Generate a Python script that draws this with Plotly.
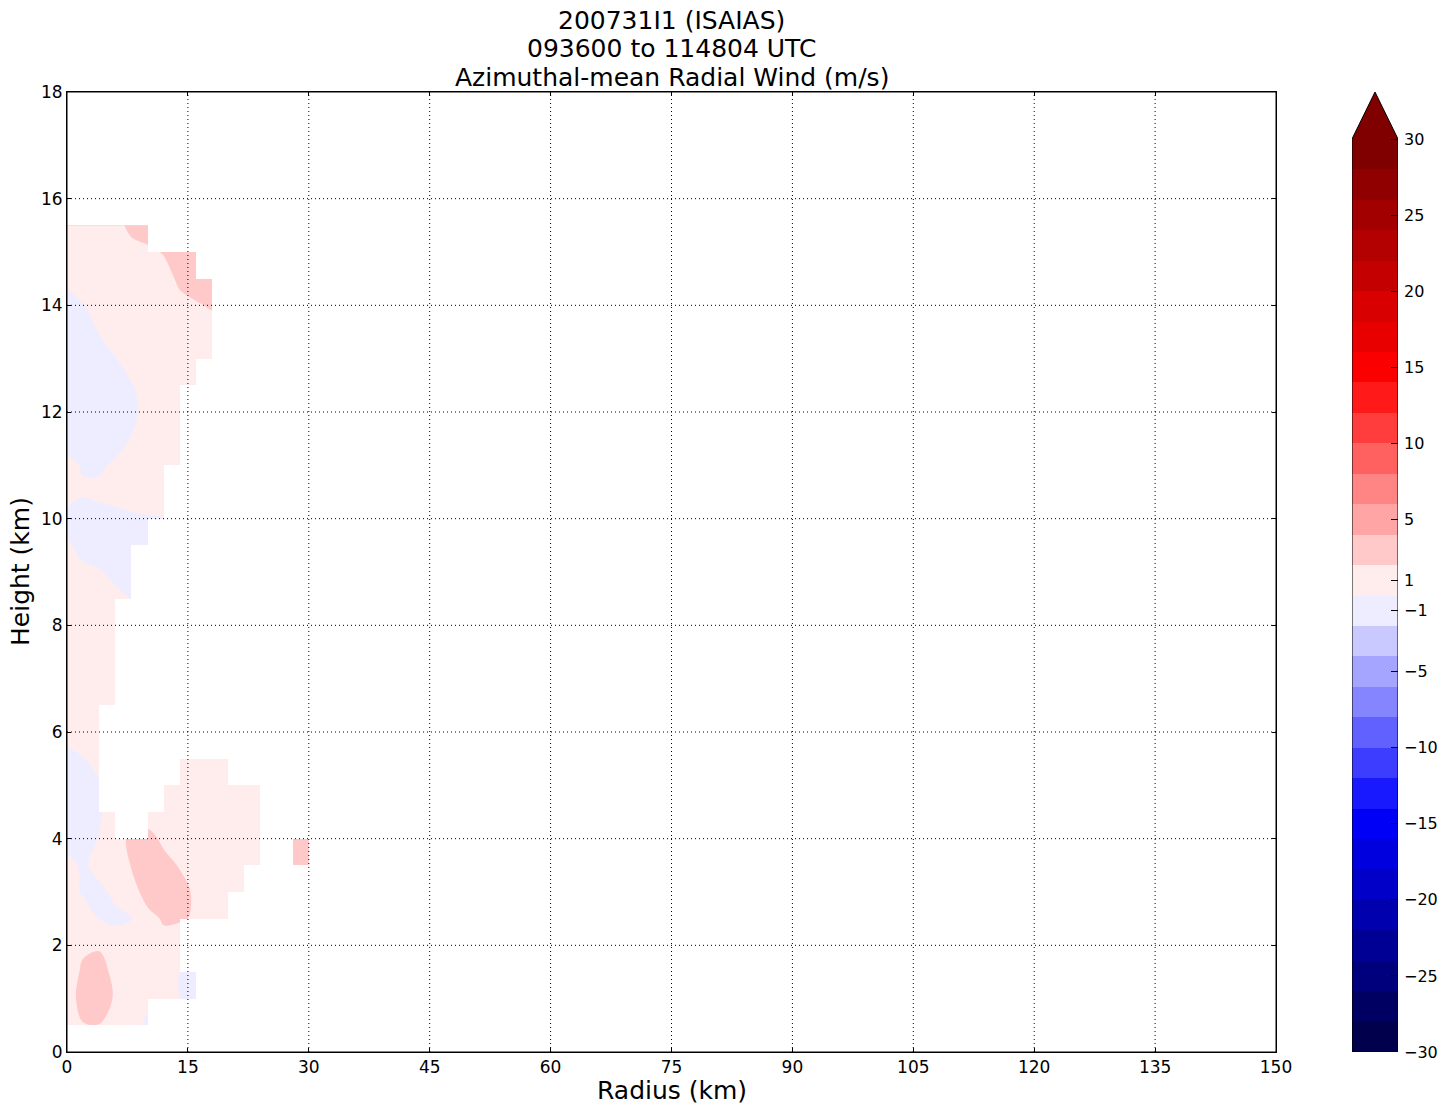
import plotly.graph_objects as go

# ---------------- data ----------------
radius_km = [0, 2, 4, 6, 8, 10, 12, 14, 16, 18, 20, 22, 24, 26, 28, 30]
height_km = [0.5, 1.0, 1.5, 2.0, 2.5, 3.0, 3.5, 4.0, 4.5, 5.0, 5.5, 6.0, 6.5, 7.0, 7.5,
             8.0, 8.5, 9.0, 9.5, 10.0, 10.5, 11.0, 11.5, 12.0, 12.5, 13.0, 13.5, 14.0,
             14.5, 15.0, 15.5]
N = None
# azimuthal-mean radial wind (m/s); rows = heights, columns = radii
radial_wind = [
    [1.0, 1.9, 1.95, 1.4, 1.0, -0.5, N, N, N, N, N, N, N, N, N, N],                 # 0.5
    [1.0, 2.8, 2.9, 1.8, 1.0, 0.8, 1.0, -0.01, -0.5, N, N, N, N, N, N, N],          # 1.0
    [1.0, 2.3, 2.7, 1.5, 1.0, 1.0, 1.0, -0.01, -0.5, N, N, N, N, N, N, N],          # 1.5
    [1.0, 1.7, 1.8, 0.6, 1.0, 1.2, 1.4, 0.8, N, N, N, N, N, N, N, N],               # 2.0
    [0.8, 0.6, -0.02, -0.2, -0.05, 1.4, 2.2, 2.2, 1.8, 1.0, 0.8, N, N, N, N, N],    # 2.5
    [0.5, -0.12, -0.2, 0.2, 1.2, 2.8, 3.2, 3.0, 1.5, 1.0, 0.8, 0.7, N, N, N, N],    # 3.0
    [0.3, -0.15, 0.3, 1.0, 2.1, 3.2, 2.9, 1.8, 1.2, 0.9, 0.8, 0.7, 0.6, N, 3.0, 3.0],  # 3.5
    [-0.45, -0.5, 0.05, 1.2, 2.4, 3.0, 1.4, 1.2, 1.0, 0.9, 0.8, 0.7, 0.6, N, 3.0, 3.0],  # 4.0
    [-0.6, -0.6, -0.1, 0.4, N, 0.3, 0.9, 1.0, 0.9, 0.8, 0.7, 0.6, 0.5, N, N, N],    # 4.5
    [-0.6, -0.5, -0.2, N, N, N, 0.8, 0.9, 0.8, 0.7, 0.6, 0.5, 0.5, N, N, N],        # 5.0
    [-0.3, -0.05, 0.5, N, N, N, N, 0.7, 0.7, 0.6, 0.5, N, N, N, N, N],              # 5.5
    [0.4, 0.5, 0.6, N, N, N, N, N, N, N, N, N, N, N, N, N],                         # 6.0
    [0.5, 0.6, 0.6, 0.6, N, N, N, N, N, N, N, N, N, N, N, N],                       # 6.5
    [0.6, 0.6, 0.6, 0.6, N, N, N, N, N, N, N, N, N, N, N, N],                       # 7.0
    [0.6, 0.6, 0.6, 0.6, N, N, N, N, N, N, N, N, N, N, N, N],                       # 7.5
    [0.6, 0.6, 0.6, 0.5, N, N, N, N, N, N, N, N, N, N, N, N],                       # 8.0
    [0.6, 0.6, 0.5, 0.3, -0.05, N, N, N, N, N, N, N, N, N, N, N],                   # 8.5
    [0.6, 0.3, 0.1, -0.3, -0.4, N, N, N, N, N, N, N, N, N, N, N],                   # 9.0
    [0.2, -0.5, -0.6, -0.6, -0.5, -0.4, N, N, N, N, N, N, N, N, N, N],              # 9.5
    [-0.3, -0.6, -0.5, -0.4, -0.2, -0.1, -0.02, N, N, N, N, N, N, N, N, N],         # 10.0
    [0.4, 0.15, 0.3, 0.5, 0.6, 0.7, 0.8, N, N, N, N, N, N, N, N, N],                # 10.5
    [0.3, -0.1, -0.2, 0.2, 0.5, 0.8, 1.0, 1.0, N, N, N, N, N, N, N, N],             # 11.0
    [-0.5, -0.9, -0.8, -0.5, 0.05, 0.6, 0.9, 1.0, N, N, N, N, N, N, N, N],          # 11.5
    [-1.2, -1.2, -1.0, -0.8, -0.3, 0.4, 0.8, 0.9, N, N, N, N, N, N, N, N],          # 12.0
    [-1.1, -1.1, -0.9, -0.6, -0.1, 0.6, 0.9, 1.0, 1.1, N, N, N, N, N, N, N],        # 12.5
    [-1.0, -0.9, -0.5, -0.05, 0.6, 0.9, 1.0, 1.1, 1.2, 1.3, N, N, N, N, N, N],      # 13.0
    [-0.8, -0.6, 0.05, 0.6, 0.9, 1.0, 1.1, 1.3, 1.4, 1.6, N, N, N, N, N, N],        # 13.5
    [-0.5, -0.05, 0.5, 0.8, 1.0, 1.1, 1.3, 1.6, 1.9, 2.1, N, N, N, N, N, N],        # 14.0
    [0.3, 0.6, 0.8, 1.0, 1.1, 1.2, 1.4, 2.3, 2.5, 3.0, N, N, N, N, N, N],           # 14.5
    [0.8, 1.0, 1.1, 1.2, 1.5, 1.7, 2.1, 2.6, 3.0, N, N, N, N, N, N, N],             # 15.0
    [1.0, 1.2, 1.3, 1.5, 2.4, 2.8, N, N, N, N, N, N, N, N, N, N],                   # 15.5
]

level_start, level_end, level_step = -30, 30, 2
cbar_ticks = [-30, -25, -20, -15, -10, -5, -1, 1, 5, 10, 15, 20, 25, 30]
x_ticks = [0, 15, 30, 45, 60, 75, 90, 105, 120, 135, 150]
y_ticks = [0, 2, 4, 6, 8, 10, 12, 14, 16, 18]
x_max, y_max = 150, 18
title_lines = ["200731I1 (ISAIAS)", "093600 to 114804 UTC", "Azimuthal-mean Radial Wind (m/s)"]

FONT = "DejaVu Sans"


# ---------------- colours (matplotlib 'seismic') ----------------
def seismic(s):
    nodes = [(0.0, (0.0, 0.0, 0.3)), (0.25, (0.0, 0.0, 1.0)), (0.5, (1.0, 1.0, 1.0)),
             (0.75, (1.0, 0.0, 0.0)), (1.0, (0.5, 0.0, 0.0))]
    s = max(0.0, min(1.0, s))
    s = min(int(s * 256), 255) / 255.0
    for (p0, c0), (p1, c1) in zip(nodes[:-1], nodes[1:]):
        if s <= p1:
            f = (s - p0) / (p1 - p0)
            c = [c0[k] + f * (c1[k] - c0[k]) for k in range(3)]
            return "rgb(%d,%d,%d)" % tuple(round(255 * v) for v in c)
    return "rgb(128,0,0)"


levels = list(range(level_start, level_end + 1, level_step))
nb = len(levels) - 1  # number of bands
mids = [0.5 * (levels[i] + levels[i + 1]) for i in range(nb)]
vmin, vmax = mids[0], mids[-1]
band_colors = [seismic((m - vmin) / (vmax - vmin)) for m in mids]
under_color = "white"          # never used by data; avoids dark edge bleed
over_color = seismic(1.0)

# stepwise colorscale: plotly evaluates band i at s=(i+1)/(nb+1)
nlev = nb + 1
bounds = [(k + 0.5) / nlev for k in range(nlev)]
colorscale = [[0.0, under_color], [bounds[0], under_color]]
for i in range(nb):
    colorscale.append([bounds[i], band_colors[i]])
    colorscale.append([bounds[i + 1], band_colors[i]])
colorscale.append([bounds[-1], over_color])
colorscale.append([1.0, over_color])

fig = go.Figure()

fig.add_trace(go.Contour(
    x=radius_km, y=height_km, z=radial_wind,
    autocontour=False,
    contours=dict(start=level_start, end=level_end, size=level_step,
                  coloring="fill", showlines=False),
    line=dict(width=0),
    colorscale=colorscale, showscale=False, connectgaps=False,
    hoverinfo="skip", xaxis="x", yaxis="y",
))

# mask quads that have any missing corner (matplotlib-like masked contourf)
dx = radius_km[1] - radius_km[0]
dy = height_km[1] - height_km[0]
ncx = int(round(x_max / dx))
ncy = int(round(y_max / dy))
row_off = int(round(height_km[0] / dy))
col_off = int(round(radius_km[0] / dx))
mask_x = [dx * (i + 0.5) for i in range(ncx)]
mask_y = [dy * (j + 0.5) for j in range(ncy)]
mask_z = []
for j in range(ncy):
    row = []
    for i in range(ncx):
        ri, ci = j - row_off, i - col_off
        ok = (0 <= ri < len(height_km) - 1) and (0 <= ci < len(radius_km) - 1)
        if ok:
            corners = [radial_wind[ri][ci], radial_wind[ri][ci + 1],
                       radial_wind[ri + 1][ci], radial_wind[ri + 1][ci + 1]]
            ok = all(c is not None for c in corners)
        row.append(None if ok else 1)
    mask_z.append(row)

# drawn on an overlaying subplot so it sits above the contour fills
fig.add_trace(go.Heatmap(
    x=mask_x, y=mask_y, z=mask_z, colorscale=[[0, "white"], [1, "white"]],
    showscale=False, hoverinfo="skip", zmin=0, zmax=1, xaxis="x3", yaxis="y3",
))

# ---------------- colour bar (manual) ----------------
fig.add_trace(go.Heatmap(
    x=[0.5], y=mids, z=[[m] for m in mids],
    colorscale=colorscale, zmin=levels[0] - level_step / 2, zmax=levels[-1] + level_step / 2,
    showscale=False, hoverinfo="skip", xaxis="x2", yaxis="y2",
))
bar_px = 913.0
ext = (level_end - level_start) * 47.0 / bar_px
fig.add_trace(go.Scatter(
    x=[0, 1, 0.5, 0], y=[levels[-1], levels[-1], levels[-1] + ext, levels[-1]],
    fill="toself", fillcolor=over_color, mode="none", hoverinfo="skip",
    showlegend=False, xaxis="x2", yaxis="y2", cliponaxis=False,
))
fig.add_trace(go.Scatter(
    x=[0, 1, 1, 0.5, 0, 0], y=[levels[0], levels[0], levels[-1], levels[-1] + ext, levels[-1], levels[0]],
    mode="lines", line=dict(color="black", width=1), hoverinfo="skip",
    showlegend=False, xaxis="x2", yaxis="y2", cliponaxis=False,
))

# ---------------- layout ----------------
W, H = 1446, 1112
ml, mr, mt, mb = 67, 40, 92, 60
pw = W - ml - mr
main_dom = [0, 1209.0 / pw]
cb_dom = [(1352.0 - ml) / pw, (1398.0 - ml) / pw]


def minus(v):
    return ("\u2212%d" % -v) if v < 0 else "%d" % v


shapes = []
for xv in x_ticks[1:-1]:
    shapes.append(dict(type="line", xref="x3", yref="y3 domain", x0=xv, x1=xv, y0=0, y1=1,
                       line=dict(color="black", width=1, dash="1px,3px"), layer="above"))
for yv in y_ticks[1:-1]:
    shapes.append(dict(type="line", xref="x3 domain", yref="y3", x0=0, x1=1, y0=yv, y1=yv,
                       line=dict(color="black", width=1, dash="1px,3px"), layer="above"))
shapes.append(dict(type="rect", xref="x3 domain", yref="y3 domain", x0=0, x1=1, y0=0, y1=1,
                   line=dict(color="black", width=1), fillcolor="rgba(0,0,0,0)", layer="above"))

annotations = []
for txt, cy in zip(title_lines, [20, 48, 77]):
    annotations.append(dict(text=txt, xref="x3 domain", x=0.5, yref="paper", y=1,
                            yshift=mt - cy, yanchor="middle", xanchor="center",
                            showarrow=False, font=dict(family=FONT, size=25, color="black")))
annotations.append(dict(text="Radius (km)", xref="x3 domain", x=0.5, yref="paper", y=0,
                        yshift=-38, yanchor="middle", xanchor="center", showarrow=False,
                        font=dict(family=FONT, size=25, color="black")))
annotations.append(dict(text="Height (km)", xref="paper", x=0, xshift=20 - ml, xanchor="center",
                        yref="y3 domain", y=0.5, yanchor="middle", textangle=-90, showarrow=False,
                        font=dict(family=FONT, size=25, color="black")))

TICKSIZE = 17
hidden = dict(visible=False, showgrid=False, zeroline=False, fixedrange=True)
fig.update_layout(
    width=W, height=H, margin=dict(l=ml, r=mr, t=mt, b=mb, pad=0),
    paper_bgcolor="white", plot_bgcolor="white", showlegend=False,
    font=dict(family=FONT, size=TICKSIZE, color="black"),
    xaxis=dict(domain=main_dom, range=[0, x_max], anchor="y", **hidden),
    yaxis=dict(domain=[0, 1], range=[0, y_max], anchor="x", **hidden),
    xaxis3=dict(overlaying="x", range=[0, x_max], tickvals=x_ticks,
                ticktext=[str(v) for v in x_ticks], showgrid=False, zeroline=False,
                showline=True, linecolor="black", linewidth=1, mirror="ticks",
                ticks="inside", ticklen=4, tickcolor="black", layer="above traces",
                tickfont=dict(family=FONT, size=TICKSIZE), anchor="y3", automargin=False,
                fixedrange=True),
    yaxis3=dict(overlaying="y", range=[0, y_max], tickvals=y_ticks,
                ticktext=[str(v) for v in y_ticks], showgrid=False, zeroline=False,
                showline=True, linecolor="black", linewidth=1, mirror="ticks",
                ticks="inside", ticklen=4, tickcolor="black", layer="above traces",
                tickfont=dict(family=FONT, size=TICKSIZE), anchor="x3", automargin=False,
                fixedrange=True),
    xaxis2=dict(domain=cb_dom, range=[0, 1], visible=False, anchor="y2", fixedrange=True),
    yaxis2=dict(domain=[0, 1], range=[levels[0], levels[-1] + ext], anchor="x2", side="right",
                tickvals=cbar_ticks, ticktext=[minus(v) for v in cbar_ticks],
                ticks="inside", ticklen=7, tickcolor="black", showgrid=False, zeroline=False,
                showline=False, tickfont=dict(family=FONT, size=16), automargin=False,
                ticklabelstandoff=5, fixedrange=True),
    shapes=shapes, annotations=annotations,
)

fig.write_html("out.html", config={"displayModeBar": False},
               post_script="document.body.style.margin='0';document.body.style.overflow='hidden';")
